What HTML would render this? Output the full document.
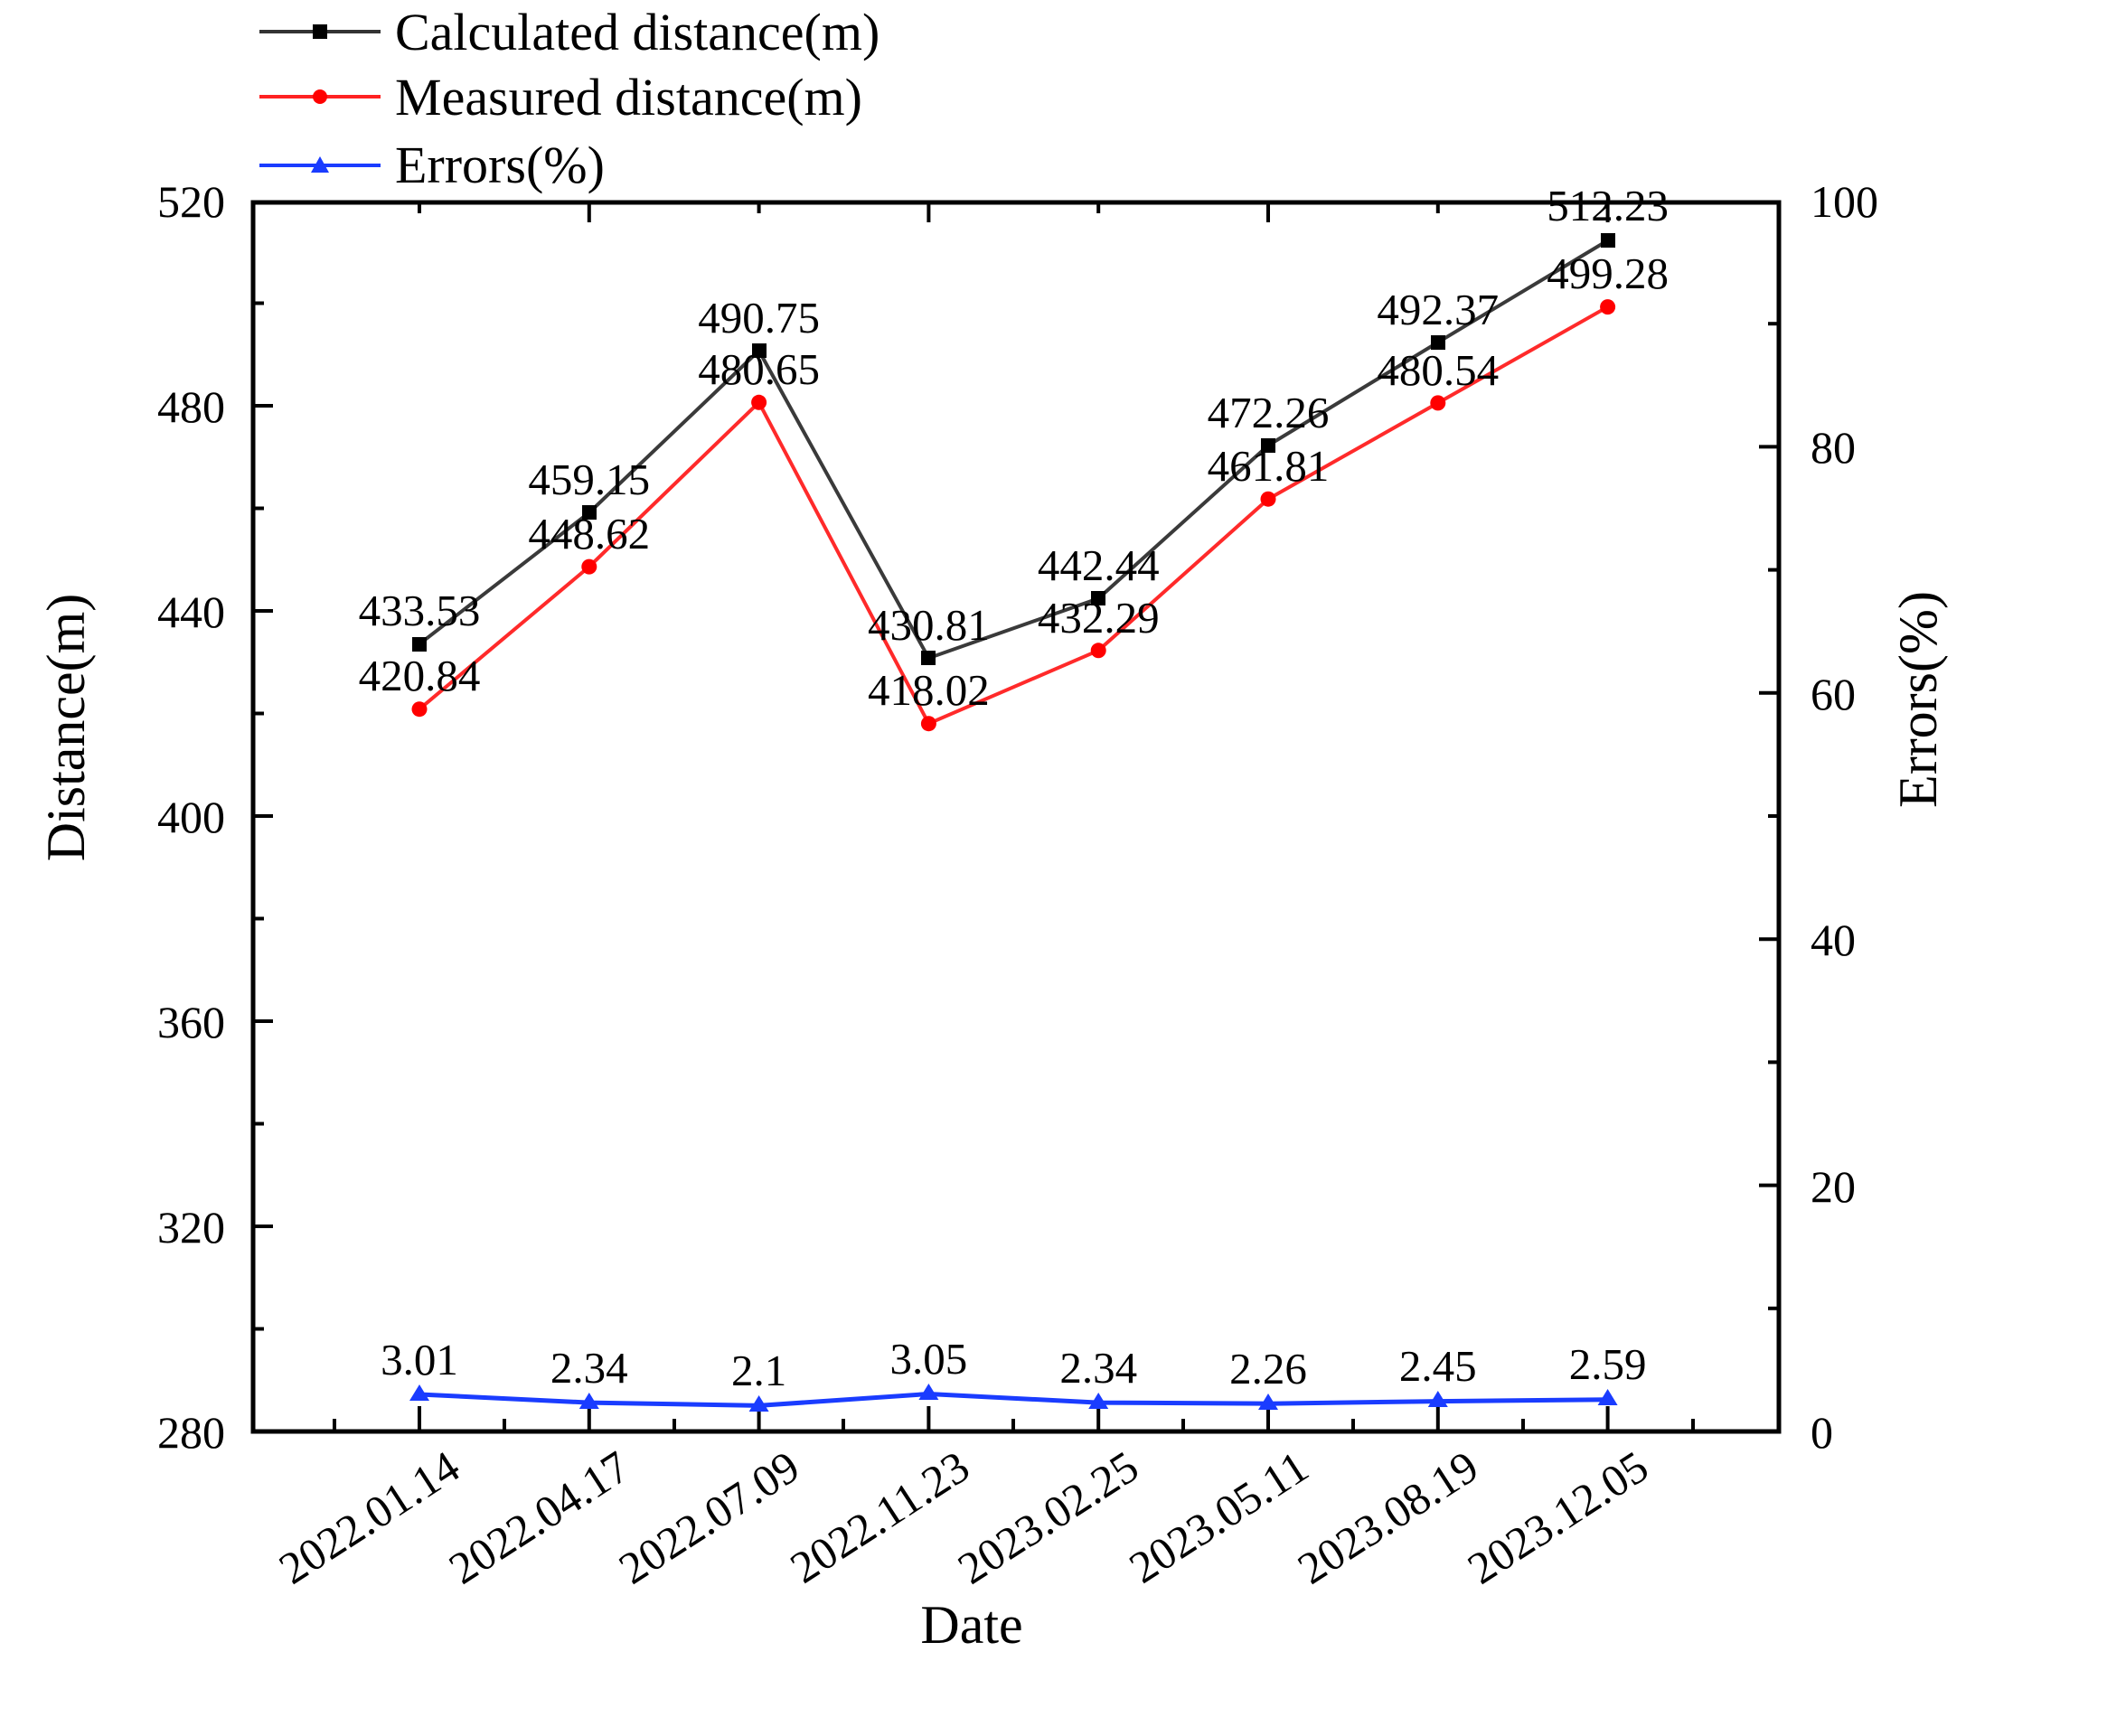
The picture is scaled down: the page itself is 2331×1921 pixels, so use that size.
<!DOCTYPE html>
<html><head><meta charset="utf-8"><style>html,body{margin:0;padding:0;background:#fff}svg{display:block}</style></head>
<body>
<svg width="2331" height="1921" viewBox="0 0 2331 1921" xmlns="http://www.w3.org/2000/svg" font-family="Liberation Serif, serif">
<rect width="2331" height="1921" fill="#fff"/>
<!-- legend -->
<g stroke-width="4">
<line x1="287" y1="35" x2="421" y2="35" stroke="#333"/><rect x="346" y="27" width="16" height="16" fill="#000"/>
<line x1="287" y1="107" x2="421" y2="107" stroke="#f22"/><circle cx="354" cy="107" r="8" fill="#f00"/>
<line x1="287" y1="183" x2="421" y2="183" stroke="#1a3cff"/><polygon points="354,173 344,191 364,191" fill="#1a3cff"/>
</g>
<g font-size="58" fill="#000">
<text x="437" y="55">Calculated distance(m)</text>
<text x="437" y="127">Measured distance(m)</text>
<text x="437" y="202">Errors(%)</text>
</g>
<!-- axes box -->
<rect x="280" y="224" width="1688" height="1360" fill="none" stroke="#000" stroke-width="5"/>
<g stroke="#000" stroke-width="4">
<!-- left ticks -->
<line x1="280" y1="1470.5" x2="292" y2="1470.5"/><line x1="280" y1="1357" x2="302" y2="1357"/>
<line x1="280" y1="1243.5" x2="292" y2="1243.5"/><line x1="280" y1="1130" x2="302" y2="1130"/>
<line x1="280" y1="1016.5" x2="292" y2="1016.5"/><line x1="280" y1="903" x2="302" y2="903"/>
<line x1="280" y1="789.5" x2="292" y2="789.5"/><line x1="280" y1="676" x2="302" y2="676"/>
<line x1="280" y1="562.5" x2="292" y2="562.5"/><line x1="280" y1="449" x2="302" y2="449"/>
<line x1="280" y1="335.5" x2="292" y2="335.5"/>
<!-- right ticks -->
<line x1="1968" y1="1447.8" x2="1956" y2="1447.8"/><line x1="1968" y1="1311.6" x2="1946" y2="1311.6"/>
<line x1="1968" y1="1175.4" x2="1956" y2="1175.4"/><line x1="1968" y1="1039.2" x2="1946" y2="1039.2"/>
<line x1="1968" y1="903" x2="1956" y2="903"/><line x1="1968" y1="766.8" x2="1946" y2="766.8"/>
<line x1="1968" y1="630.6" x2="1956" y2="630.6"/><line x1="1968" y1="494.4" x2="1946" y2="494.4"/>
<line x1="1968" y1="358.2" x2="1956" y2="358.2"/>
<!-- bottom ticks -->
<line x1="464" y1="1584" x2="464" y2="1556"/><line x1="651.8" y1="1584" x2="651.8" y2="1556"/>
<line x1="839.6" y1="1584" x2="839.6" y2="1556"/><line x1="1027.4" y1="1584" x2="1027.4" y2="1556"/>
<line x1="1215.2" y1="1584" x2="1215.2" y2="1556"/><line x1="1403" y1="1584" x2="1403" y2="1556"/>
<line x1="1590.8" y1="1584" x2="1590.8" y2="1556"/><line x1="1778.6" y1="1584" x2="1778.6" y2="1556"/>
<line x1="370" y1="1584" x2="370" y2="1570"/><line x1="558" y1="1584" x2="558" y2="1570"/>
<line x1="746" y1="1584" x2="746" y2="1570"/><line x1="933" y1="1584" x2="933" y2="1570"/>
<line x1="1121" y1="1584" x2="1121" y2="1570"/><line x1="1309" y1="1584" x2="1309" y2="1570"/>
<line x1="1497" y1="1584" x2="1497" y2="1570"/><line x1="1685" y1="1584" x2="1685" y2="1570"/>
<line x1="1873" y1="1584" x2="1873" y2="1570"/>
<!-- top ticks -->
<line x1="464" y1="224" x2="464" y2="236"/><line x1="651.8" y1="224" x2="651.8" y2="246"/>
<line x1="839.6" y1="224" x2="839.6" y2="236"/><line x1="1027.4" y1="224" x2="1027.4" y2="246"/>
<line x1="1215.2" y1="224" x2="1215.2" y2="236"/><line x1="1403" y1="224" x2="1403" y2="246"/>
<line x1="1590.8" y1="224" x2="1590.8" y2="236"/><line x1="1778.6" y1="224" x2="1778.6" y2="246"/>
</g>
<!-- tick labels -->
<g font-size="50" fill="#000" text-anchor="end">
<text x="249" y="240">520</text><text x="249" y="467">480</text><text x="249" y="694">440</text>
<text x="249" y="921">400</text><text x="249" y="1148">360</text><text x="249" y="1375">320</text><text x="249" y="1602">280</text>
</g>
<g font-size="50" fill="#000">
<text x="2003" y="240">100</text><text x="2003" y="512">80</text><text x="2003" y="785">60</text>
<text x="2003" y="1057">40</text><text x="2003" y="1330">20</text><text x="2003" y="1602">0</text>
</g>
<g font-size="50" fill="#000" text-anchor="end">
<text transform="translate(512,1632) rotate(-33)">2022.01.14</text>
<text transform="translate(700,1632) rotate(-33)">2022.04.17</text>
<text transform="translate(888,1632) rotate(-33)">2022.07.09</text>
<text transform="translate(1076,1632) rotate(-33)">2022.11.23</text>
<text transform="translate(1263,1632) rotate(-33)">2023.02.25</text>
<text transform="translate(1451,1632) rotate(-33)">2023.05.11</text>
<text transform="translate(1639,1632) rotate(-33)">2023.08.19</text>
<text transform="translate(1827,1632) rotate(-33)">2023.12.05</text>
</g>
<!-- axis titles -->
<g font-size="60" fill="#000" text-anchor="middle">
<text x="1075" y="1818">Date</text>
<text transform="translate(93,805) rotate(-90)">Distance(m)</text>
<text transform="translate(2142,774) rotate(-90)">Errors(%)</text>
</g>
<!-- series -->
<polyline fill="none" stroke="#3a3a3a" stroke-width="4" points="464,712.7 651.8,567.3 839.6,388 1027.4,728.2 1215.2,662.2 1403,492.9 1590.8,378.8 1778.6,266.1"/>
<polyline fill="none" stroke="#ff2a2a" stroke-width="4" points="464,784.7 651.8,627.1 839.6,445.3 1027.4,800.7 1215.2,719.8 1403,552.2 1590.8,445.9 1778.6,339.6"/>
<polyline fill="none" stroke="#1a3cff" stroke-width="5" points="464,1543 651.8,1552.1 839.6,1555.4 1027.4,1542.5 1215.2,1552.1 1403,1553.2 1590.8,1550.6 1778.6,1548.7"/>
<g fill="#000">
<rect x="456" y="705" width="16" height="16"/><rect x="644" y="559" width="16" height="16"/>
<rect x="832" y="380" width="16" height="16"/><rect x="1019" y="720" width="16" height="16"/>
<rect x="1207" y="654" width="16" height="16"/><rect x="1395" y="485" width="16" height="16"/>
<rect x="1583" y="371" width="16" height="16"/><rect x="1771" y="258" width="16" height="16"/>
</g>
<g fill="#f00">
<circle cx="464" cy="784.7" r="8.5"/><circle cx="651.8" cy="627.1" r="8.5"/><circle cx="839.6" cy="445.3" r="8.5"/>
<circle cx="1027.4" cy="800.7" r="8.5"/><circle cx="1215.2" cy="719.8" r="8.5"/><circle cx="1403" cy="552.2" r="8.5"/>
<circle cx="1590.8" cy="445.9" r="8.5"/><circle cx="1778.6" cy="339.6" r="8.5"/>
</g>
<g fill="#1a3cff">
<polygon points="464,1532 453,1550 475,1550"/><polygon points="651.8,1541 640.8,1559 662.8,1559"/>
<polygon points="839.6,1544 828.6,1562 850.6,1562"/><polygon points="1027.4,1531 1016.4,1549 1038.4,1549"/>
<polygon points="1215.2,1541 1204.2,1559 1226.2,1559"/><polygon points="1403,1542 1392,1560 1414,1560"/>
<polygon points="1590.8,1539 1579.8,1557 1601.8,1557"/><polygon points="1778.6,1537 1767.6,1555 1789.6,1555"/>
</g>
<!-- data labels -->
<g font-size="49" fill="#000" text-anchor="middle">
<text x="464" y="692">433.53</text><text x="651.8" y="547">459.15</text><text x="839.6" y="368">490.75</text>
<text x="1027.4" y="708">430.81</text><text x="1215.2" y="642">442.44</text><text x="1403" y="473">472.26</text>
<text x="1590.8" y="359">492.37</text><text x="1778.6" y="244">512.23</text>
<text x="464" y="764">420.84</text><text x="651.8" y="607">448.62</text><text x="839.6" y="425">480.65</text>
<text x="1027.4" y="780">418.02</text><text x="1215.2" y="700">432.29</text><text x="1403" y="532">461.81</text>
<text x="1590.8" y="426">480.54</text><text x="1778.6" y="319">499.28</text>
<text x="464" y="1521">3.01</text><text x="651.8" y="1530">2.34</text><text x="839.6" y="1533">2.1</text>
<text x="1027.4" y="1520">3.05</text><text x="1215.2" y="1530">2.34</text><text x="1403" y="1531">2.26</text>
<text x="1590.8" y="1528">2.45</text><text x="1778.6" y="1526">2.59</text>
</g>
</svg>
</body></html>
